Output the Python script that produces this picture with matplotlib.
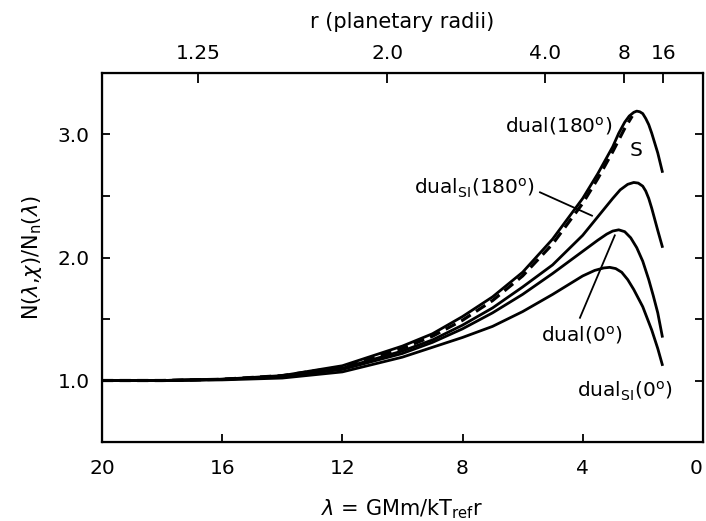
import numpy as np
import matplotlib
matplotlib.use("Agg")
import matplotlib.pyplot as plt

# lambda values (x) and N/Nn for each curve
lam_d180 = [20, 18, 16, 14, 12, 10, 9, 8, 7, 6, 5, 4, 3.5, 3, 2.8, 2.6, 2.45, 2.3, 2.2, 2.1, 2.0, 1.9, 1.8, 1.7, 1.6, 1.5, 1.35]
n_d180 = [1.0, 1.0, 1.01, 1.04, 1.12, 1.28, 1.38, 1.52, 1.68, 1.88, 2.15, 2.48, 2.68, 2.90, 3.01, 3.10, 3.15, 3.18, 3.19, 3.185, 3.17, 3.13, 3.08, 3.01, 2.93, 2.85, 2.70]

lam_s = [20, 18, 16, 14, 12, 10, 9, 8, 7, 6, 5, 4, 3.5, 3, 2.6, 2.35]
n_s = [1.0, 1.0, 1.01, 1.04, 1.11, 1.26, 1.36, 1.49, 1.65, 1.85, 2.11, 2.44, 2.64, 2.86, 3.05, 3.15]

lam_dsi180 = [20, 18, 16, 14, 12, 10, 9, 8, 7, 6, 5, 4, 3.5, 3, 2.75, 2.5, 2.3, 2.15, 2.0, 1.9, 1.8, 1.7, 1.6, 1.5, 1.35]
n_dsi180 = [1.0, 1.0, 1.01, 1.03, 1.10, 1.24, 1.33, 1.45, 1.59, 1.76, 1.94, 2.18, 2.33, 2.48, 2.55, 2.595, 2.61, 2.605, 2.58, 2.54, 2.48, 2.40, 2.31, 2.22, 2.09]

lam_d0 = [20, 18, 16, 14, 12, 10, 9, 8, 7, 6, 5, 4, 3.5, 3.2, 3.0, 2.8, 2.6, 2.4, 2.2, 2.0, 1.8, 1.65, 1.5, 1.35]
n_d0 = [1.0, 1.0, 1.01, 1.03, 1.09, 1.22, 1.31, 1.42, 1.55, 1.70, 1.87, 2.05, 2.14, 2.19, 2.215, 2.225, 2.21, 2.16, 2.08, 1.97, 1.82, 1.69, 1.55, 1.36]

lam_dsi0 = [20, 18, 16, 14, 12, 10, 9, 8, 7, 6, 5, 4, 3.6, 3.3, 3.1, 2.9, 2.7, 2.5, 2.3, 2.0, 1.7, 1.5, 1.35]
n_dsi0 = [1.0, 1.0, 1.005, 1.02, 1.07, 1.19, 1.27, 1.35, 1.44, 1.56, 1.70, 1.85, 1.895, 1.915, 1.92, 1.91, 1.88, 1.82, 1.74, 1.60, 1.41, 1.26, 1.13]

x_ticks = [20, 16, 12, 8, 4, 0]
y_ticks = [1.0, 2.0, 3.0]
r_ticks = [1.25, 2.0, 4.0, 8, 16]
r_labels = ['1.25', '2.0', '4.0', '8', '16']
lam_ref = 21.0  # lambda = lam_ref / r

fig = plt.figure(figsize=(7.06, 5.21), dpi=100)
ax = fig.add_axes([0.1445, 0.1516, 0.851, 0.7083])

lw = 2.0
ax.plot(lam_d180, n_d180, color='black', lw=lw)
ax.plot(lam_s, n_s, color='black', lw=lw + 0.3, linestyle=(0, (3.5, 2)))
ax.plot(lam_dsi180, n_dsi180, color='black', lw=lw)
ax.plot(lam_d0, n_d0, color='black', lw=lw)
ax.plot(lam_dsi0, n_dsi0, color='black', lw=lw)

ax.set_xlim(20, 0)
ax.set_ylim(0.5, 3.5)
ax.set_xticks(x_ticks)
ax.set_xticklabels([str(v) for v in x_ticks])
ax.get_xticklabels()[-1].set_ha('right')
ax.set_yticks(y_ticks)
ax.set_yticklabels(['1.0', '2.0', '3.0'])
ax.set_yticks([1.5, 2.5], minor=True)
ax.tick_params(which='both', direction='in', right=True, labelsize=14.5)
ax.tick_params(axis='x', pad=12)
ax.tick_params(axis='y', pad=9)
ax.tick_params(which='both', length=6, width=1.3)
for s in ax.spines.values():
    s.set_linewidth(1.6)

ax.set_xlabel(r'$\lambda$ = GMm/kT$_\mathrm{ref}$r', fontsize=15, labelpad=14)
ax.set_ylabel(r'N($\lambda$,$\chi$)/N$_\mathrm{n}$($\lambda$)', fontsize=15, labelpad=10)

ax2 = ax.twiny()
ax2.set_xlim(ax.get_xlim())
ax2.set_xticks([lam_ref / r for r in r_ticks])
ax2.set_xticklabels(r_labels)
ax2.tick_params(direction='in', length=7, width=1.3, labelsize=14.5, pad=7)
ax2.set_xlabel('r (planetary radii)', fontsize=15, labelpad=12)

fs = 14.5
ax.text(3.0, 3.07, r'dual(180$^\mathrm{o}$)', fontsize=fs, ha='right', va='center')
ax.text(2.23, 2.87, 'S', fontsize=fs, ha='center', va='center')
ax.text(5.6, 2.56, r'dual$_\mathrm{SI}$(180$^\mathrm{o}$)', fontsize=fs, ha='right', va='center')
ax.plot([5.42, 3.69], [2.53, 2.34], color='black', lw=1.3)
ax.text(4.03, 1.37, r'dual(0$^\mathrm{o}$)', fontsize=fs, ha='center', va='center')
ax.plot([4.09, 2.93], [1.51, 2.18], color='black', lw=1.3)
ax.text(2.6, 0.91, r'dual$_\mathrm{SI}$(0$^\mathrm{o}$)', fontsize=fs, ha='center', va='center')

fig.savefig('out.png', dpi=100)
